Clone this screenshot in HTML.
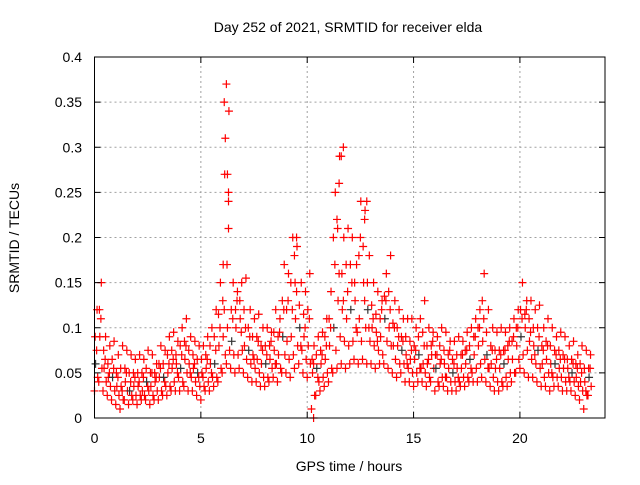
<!DOCTYPE html>
<html><head><meta charset="utf-8"><style>
body{margin:0;background:#fff}
svg text{font-family:"Liberation Sans",sans-serif;font-size:14px;fill:#000}
</style></head><body>
<svg id="chart" width="640" height="480" viewBox="0 0 640 480">
<rect width="640" height="480" fill="#fff"/>
<g id="grid"></g><g id="marks"></g><g id="axes"></g>
<text x="348" y="32" text-anchor="middle">Day 252 of 2021, SRMTID for receiver elda</text>
<text x="349" y="471" text-anchor="middle">GPS time / hours</text>
<text x="0" y="0" text-anchor="middle" transform="translate(19,238) rotate(-90)">SRMTID / TECUs</text>
</svg>
<script>
const tStart = 0, tStep = 0.2;
const lowVals = [30,40,30,25,20, 15,10,20,15,20, 15,20,20,15,20, 20,25,25,30,30, 30,35,30,30,25, 20,30,30,35,40, 50,60,55,50,55, 50,45,40,40,35, 35,40,45,40,50, 50,45,55,60,50, 45,10,25,30,35, 40,50,55,60,55, 60,65,60,65,60, 60,55,60,60,55, 50,45,50,40,40, 35,40,40,35,40, 30,35,35,30,30, 30,35,35,40,40, 40,45,40,35,30, 30,35,35,40,50, 55,50,45,45,40, 35,35,30,35,35, 30,30,30,25,20, 10,25];
const q1Vals = [45,55,40,35,30, 25,20,30,25,25, 25,25,30,25,30, 30,35,35,40,45, 40,50,45,40,35, 35,40,45,45,55, 70,75,70,70,75, 65,60,55,50,45, 45,55,60,55,70, 65,70,80,75,65, 60,25,40,45,50, 55,75,90,85,80, 85,95,85,100,85, 80,75,70,85,80, 65,60,60,55,50, 50,55,50,45,55, 40,45,45,40,40, 40,45,45,50,55, 60,65,55,45,40, 40,45,50,50,65, 70,75,65,60,55, 45,50,45,45,45, 40,40,40,35,30, 25,35];
const midVals = [60,90,55,45,45, 35,35,40,30,35, 35,30,40,35,40, 45,45,50,55,60, 55,65,60,55,50, 50,55,60,60,80, 90,100,85,100,110, 80,75,70,65,60, 60,65,75,70,90, 85,90,110,100,90, 80,50,55,60,65, 80,100,130,120,110, 120,130,110,150,120, 100,95,90,110,100, 80,80,75,70,65, 65,70,60,60,70, 55,60,60,55,50, 55,55,60,65,70, 80,85,70,60,55, 55,60,65,65,80, 90,100,85,80,75, 60,65,60,60,55, 55,55,50,45,40, 40,45];
const mid2Vals = [75,110,65,50,55, 45,30,50,40,45, 40,45,35,50,45, 55,40,60,65,50, 70,80,50,60,45, 45,65,50,75,100, 120,250,110,130,95, 100,90,65,85,75, 70,85,60,95,120, 130,120,140,80,100, 110,60,45,70,80, 100,170,160,130,140, 150,100,200,130,100, 110,85,120,130,120, 100,90,85,60,75, 75,55,80,65,85, 70,65,45,75,60, 45,70,75,55,90, 100,110,55,75,65, 70,75,85,90,100, 110,120,95,70,90, 75,80,50,70,65, 65,45,60,55,50, 30,55];
const q3Vals = [90,120,75,60,65, 50,55,55,50,50, 50,50,55,50,50, 60,60,70,75,70, 80,85,75,70,65, 65,70,80,90,115, 130,170,120,120,130, 120,100,90,90,80, 80,80,95,90,130, 120,150,150,125,115, 120,65,70,75,90, 110,200,210,160,170, 170,150,180,190,150, 125,115,110,135,140, 105,100,90,90,85, 80,90,95,80,80, 70,80,75,70,65, 70,70,75,80,90, 100,130,95,80,75, 75,75,80,85,100, 120,115,110,100,100, 80,85,80,75,75, 70,65,65,60,60, 55,55];
const highVals = [120,150,90,80,85, 70,80,75,70,65, 70,65,75,70,60, 80,75,90,95,85, 100,110,90,85,80, 80,90,100,120,150, 270,340,150,140,150, 155,120,110,115,100, 100,95,120,110,170, 160,200,190,150,140, 160,80,90,95,110, 140,250,290,200,210, 200,170,240,230,180, 150,140,130,160,180, 130,120,110,110,110, 100,110,130,100,95, 90,100,95,85,85, 90,85,95,100,110, 120,160,120,100,95, 100,95,100,110,120, 150,130,130,120,125, 100,110,100,90,95, 90,80,85,70,80, 75,70];
const spikeT = [6.1,6.2,6.15,6.25,6.3,6.3,6.05,11.6,11.7,11.5,11.4,12.8,12.7,9.5,9.4,10.3];
const spikeV = [0.35,0.37,0.31,0.27,0.24,0.21,0.17,0.29,0.30,0.26,0.22,0.24,0.22,0.20,0.18,0.0];
const yTicks = [0,0.05,0.1,0.15,0.2,0.25,0.3,0.35,0.4];
const yTickLabels = ["0","0.05","0.1","0.15","0.2","0.25","0.3","0.35","0.4"];
const xTicks = [0,5,10,15,20];
const xTickLabels = ["0","5","10","15","20"];

const X0=94.5, X1=605, Y0=418, Y1=57;
const xs = t => X0 + t/24*(X1-X0);
const ys = v => Y0 - v/0.4*(Y0-Y1);
const NS="http://www.w3.org/2000/svg";
function mk(tag, attrs, parent){const e=document.createElementNS(NS,tag);for(const k in attrs)e.setAttribute(k,attrs[k]);parent.appendChild(e);return e;}
const grid=document.getElementById('grid'), marks=document.getElementById('marks'), axes=document.getElementById('axes');
yTicks.forEach((v,i)=>{
  const y=ys(v);
  if(i>0&&i<yTicks.length-1){const g=mk('line',{x1:X0,x2:X1,y1:y,y2:y,stroke:'#a0a0a0','stroke-dasharray':'2,3'},grid);
  
  }
  mk('line',{x1:X0,x2:X0+6,y1:y,y2:y,stroke:'#000'},axes);
  mk('line',{x1:X1,x2:X1-6,y1:y,y2:y,stroke:'#000'},axes);
  const t=mk('text',{x:82,y:y+5,'text-anchor':'end'},axes);t.textContent=yTickLabels[i];
  
  
});
xTicks.forEach((v,i)=>{
  const x=xs(v);
  if(i>0){const g=mk('line',{x1:x,x2:x,y1:Y0,y2:Y1,stroke:'#a0a0a0','stroke-dasharray':'2,3'},grid);
  
  }
  mk('line',{x1:x,x2:x,y1:Y0,y2:Y0-6,stroke:'#000'},axes);
  mk('line',{x1:x,x2:x,y1:Y1,y2:Y1+6,stroke:'#000'},axes);
  const t=mk('text',{x:x,y:443,'text-anchor':'middle'},axes);t.textContent=xTickLabels[i];
  
  
});
const frame=mk('rect',{x:X0,y:Y1,width:X1-X0,height:Y0-Y1,fill:'none',stroke:'#000'},axes);


function plus(t,v,color){
  const x=xs(t), y=ys(v);
  const p=mk('path',{d:`M${x-4},${y}h8M${x},${y-4}v8`,stroke:color,'stroke-width':1.2,fill:'none'},marks);
  
  
}
const offsets=[0,0.15,0.05,0.1,0.03,0.12];
[lowVals,q1Vals,midVals,mid2Vals,q3Vals,highVals].forEach((arr,si)=>{
  arr.forEach((v,i)=>{
    const t=tStart+i*tStep+offsets[si];
    plus(t,v/1000,(si===2&&i%4===0)?'#333':'#f00');
  });
});
spikeT.forEach((t,i)=>plus(t,spikeV[i],'#f00'));
</script>
</body></html>
